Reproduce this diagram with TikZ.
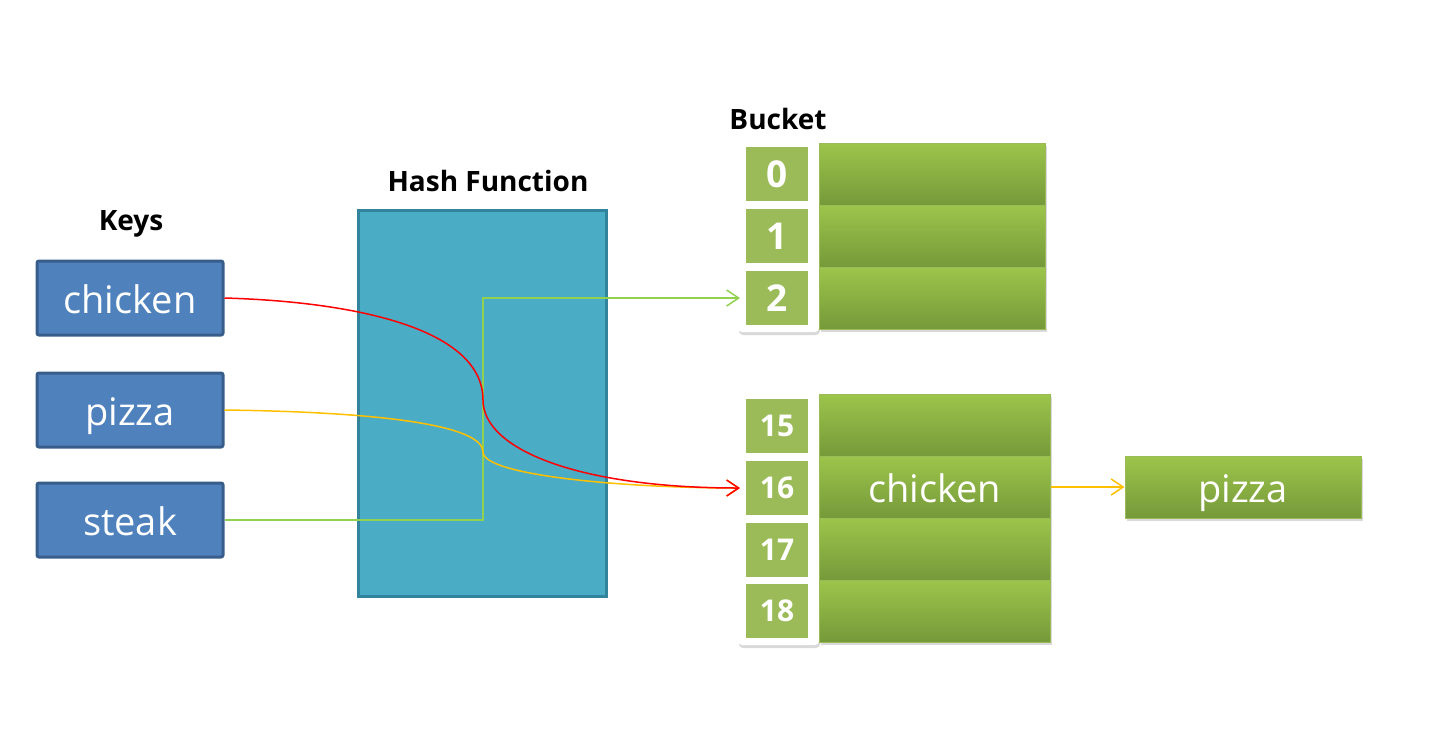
\documentclass[tikz,border=0pt]{standalone}
\usepackage{fontspec}
\setmainfont{Open Sans}
\usetikzlibrary{arrows.meta,shadows}

\definecolor{keyfill}{HTML}{4F81BD}
\definecolor{keyline}{HTML}{385D8A}
\definecolor{hashfill}{HTML}{4BACC6}
\definecolor{hashline}{HTML}{31849B}
\definecolor{idxfill}{HTML}{9BBB59}
\definecolor{slottop}{HTML}{9CC54B}
\definecolor{slotbot}{HTML}{76993A}
\definecolor{redline}{HTML}{FF0000}
\definecolor{yelline}{HTML}{FFC000}
\definecolor{grnline}{HTML}{92D050}

\tikzset{
  title/.style={font=\fontsize{28pt}{32pt}\selectfont\bfseries},
  key/.style={draw=keyline,fill=keyfill,line width=3pt,rounded corners=2pt,
    minimum width=186pt,minimum height=74pt,inner sep=0pt,text=white,
    text height=34pt,text depth=4pt,
    font=\fontsize{38pt}{44pt}\selectfont},
  hashbox/.style={draw=hashline,fill=hashfill,line width=3pt,
    minimum width=248pt,minimum height=386pt,inner sep=0pt},
  back/.style={fill=white,rounded corners=4pt,minimum width=81pt,inner sep=0pt,
    drop shadow={opacity=0.3,shadow xshift=1pt,shadow yshift=-3pt}},
  slot/.style={top color=slottop,bottom color=slotbot,draw=idxfill,line width=1pt,
    minimum height=62pt,inner sep=0pt,text=white,
    text height=34pt,text depth=4pt,
    font=\fontsize{38pt}{44pt}\selectfont,
    drop shadow={opacity=0.3,shadow xshift=2pt,shadow yshift=-3pt}},
  idx/.style={fill=idxfill,minimum width=62pt,minimum height=54pt,inner sep=0pt,
    text=white,font=\fontsize{37pt}{42pt}\selectfont\bfseries},
  idxs/.style={idx,font=\fontsize{30pt}{34pt}\selectfont\bfseries},
  link/.style={line width=1.5pt,-{Straight Barb[length=12pt,width=16pt,line width=1.5pt]}}
}

\begin{document}
\begin{tikzpicture}[x=1pt,y=-1pt]
\useasboundingbox (0,0) rectangle (1441,732);

\node[title](tk) at(131,224){Keys};
\node[title](th) at(488,181){Hash Function};
\node[title](tb) at(778,119){Bucket};

\node[key](k1) at(130,298){chicken};
\node[key](k2) at(130,410){pizza};
\node[key](k3) at(130,520){steak};

\node[hashbox](hf) at(482,403){};

% first bucket block
\node[back,minimum height=189pt](w1) at(778.5,237.5){};
\node[slot,minimum width=226pt](s0) at(932,174){};
\node[slot,minimum width=226pt](s1) at(932,236){};
\node[slot,minimum width=226pt](s2) at(932,298){};
\node[idx](i0) at(777,174){0};
\node[idx](i1) at(777,236){1};
\node[idx](i2) at(777,298){2};

% second bucket block
\node[back,minimum height=251pt](w2) at(778.5,519.5){};
\node[slot,minimum width=231pt](s15) at(934.5,425){};
\node[slot,minimum width=231pt](s16) at(934.5,487){chicken};
\node[slot,minimum width=231pt](s17) at(934.5,549){};
\node[slot,minimum width=231pt](s18) at(934.5,611){};
\node[idxs](i15) at(777,426){15};
\node[idxs](i16) at(777,488){16};
\node[idxs](i17) at(777,550){17};
\node[idxs](i18) at(777,611){18};

\node[slot,minimum width=236pt](p1) at(1243,487){pizza};

\coordinate (t2) at(740,298);
\coordinate (t16) at(740,488);
\coordinate (g) at(483,520);
\coordinate (hr) at(483,400);
\coordinate (hy) at(483,452);

\draw[link,grnline](k3.east)--(g)|-(t2);
\draw[link,yelline](k2.east)..controls(380,412)and(483,425)..(hy)
  ..controls(483,475)and(620,488)..(t16);
\draw[link,redline](k1.east)..controls(360,302)and(483,330)..(hr)
  ..controls(483,450)and(580,488)..(t16);
\draw[link,yelline](s16.east)--(p1.west);

\end{tikzpicture}
\end{document}
